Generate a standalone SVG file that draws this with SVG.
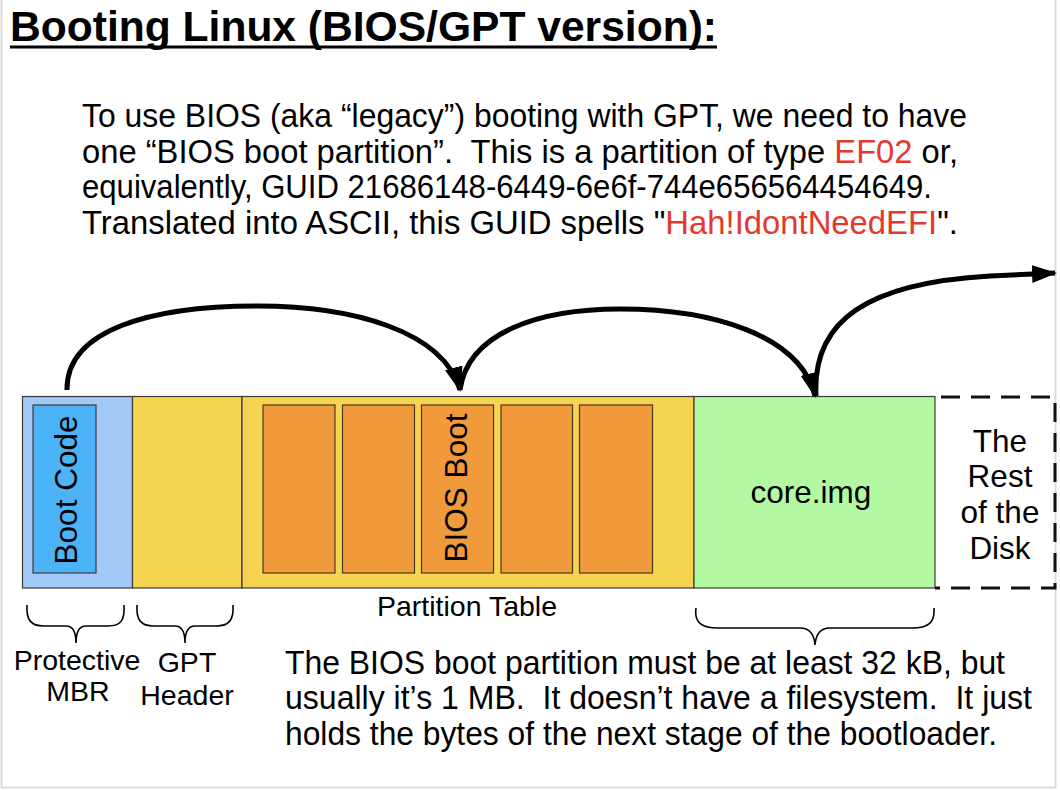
<svg xmlns="http://www.w3.org/2000/svg" width="1060" height="790" viewBox="0 0 1060 790">
  <style>
    .t { font-family: "Liberation Sans", Arial, sans-serif; fill: #000; white-space: pre; }
    .body { font-size: 32.5px; }
    .box { font-size: 31.5px; }
    .lbl { font-size: 28.5px; }
    .red { fill: #e5382c; }
    .blk { stroke: #3a3a3a; stroke-width: 1.2; }
    .part { fill: #f09a3b; stroke: #4a3a20; stroke-width: 1.2; }
    .arc { fill: none; stroke: #000; stroke-width: 5; marker-end: url(#head); }
    .brace { fill: none; stroke: #000; stroke-width: 1.6; }
  </style>
  <defs>
    <marker id="head" markerUnits="userSpaceOnUse" markerWidth="26" markerHeight="20" refX="23" refY="9" orient="auto">
      <path d="M0,0 L25,9 L0,18 z" fill="#000"/>
    </marker>
  </defs>

  <rect x="0" y="0" width="1060" height="790" fill="#fff"/>
  <rect x="1.5" y="-5" width="1054" height="792.5" fill="none" stroke="#dcdcdc" stroke-width="2"/>

  <!-- title -->
  <g id="title">
    <text class="t" x="10" y="41" font-size="43" font-weight="bold" textLength="707" lengthAdjust="spacingAndGlyphs">Booting Linux (BIOS/GPT version):</text>
    <line x1="10" y1="47" x2="717" y2="47" stroke="#000" stroke-width="3"/>
  </g>

  <!-- intro paragraph -->
  <g id="intro">
    <text class="t body" x="82" y="127" textLength="885" lengthAdjust="spacingAndGlyphs">To use BIOS (aka “legacy”) booting with GPT, we need to have</text>
    <text class="t body" x="82" y="163" textLength="876" lengthAdjust="spacingAndGlyphs">one “BIOS boot partition”.  This is a partition of type <tspan class="red">EF02</tspan> or,</text>
    <text class="t body" x="82" y="198" textLength="850" lengthAdjust="spacingAndGlyphs">equivalently, GUID 21686148-6449-6e6f-744e656564454649.</text>
    <text class="t body" x="82" y="234" textLength="876" lengthAdjust="spacingAndGlyphs">Translated into ASCII, this GUID spells "<tspan class="red">Hah!IdontNeedEFI</tspan>".</text>
  </g>

  <!-- disk layout -->
  <g id="mbr">
    <rect x="22.5" y="396.5" width="110" height="191.5" fill="#a2c9f6" class="blk"/>
    <rect x="33" y="405" width="63" height="168" fill="#4db3f7" class="blk"/>
    <text class="t box" text-anchor="middle" transform="translate(77,490) rotate(-90)">Boot Code</text>
  </g>
  <g id="gpt-header">
    <rect x="132.5" y="396.5" width="109.5" height="191.5" fill="#f6d350" class="blk"/>
  </g>
  <g id="partition-table">
    <rect x="242" y="396.5" width="452" height="191.5" fill="#f6d350" class="blk"/>
    <rect x="263" y="405" width="72" height="168" class="part"/>
    <rect x="342.5" y="405" width="72" height="168" class="part"/>
    <rect x="421.5" y="405" width="72" height="168" class="part"/>
    <rect x="501" y="405" width="71.5" height="168" class="part"/>
    <rect x="579.5" y="405" width="73" height="168" class="part"/>
    <text class="t box" text-anchor="middle" transform="translate(467,488) rotate(-90)">BIOS Boot</text>
  </g>
  <g id="core-img">
    <rect x="694" y="396.5" width="241" height="191.5" fill="#b2f9a1" class="blk"/>
    <text class="t box" x="811" y="503" text-anchor="middle">core.img</text>
  </g>
  <g id="rest-of-disk">
    <path d="M935,397 H1055 V588 H935" fill="none" stroke="#111" stroke-width="3" stroke-dasharray="19 11" stroke-dashoffset="-6"/>
    <text class="t box" x="1000" y="452" text-anchor="middle">The</text>
    <text class="t box" x="1000" y="487" text-anchor="middle">Rest</text>
    <text class="t box" x="1000" y="523" text-anchor="middle">of the</text>
    <text class="t box" x="1000" y="559" text-anchor="middle">Disk</text>
  </g>

  <!-- braces and labels under the disk -->
  <g id="mbr-label">
    <path class="brace" d="M27,605 C26,620 31,626 44,626 L66,626 C72,626 76,630 76,643 C76,630 80,626 86,626 L108,626 C121,626 125,620 124,605"/>
    <text class="t lbl" x="77" y="670" text-anchor="middle">Protective</text>
    <text class="t lbl" x="78" y="701" text-anchor="middle">MBR</text>
  </g>
  <g id="gpt-label">
    <path class="brace" d="M137,605 C136,620 141,626 154,626 L175,626 C181,626 185,630 185,643 C185,630 189,626 195,626 L216,626 C229,626 234,620 233,605"/>
    <text class="t lbl" x="187" y="672" text-anchor="middle">GPT</text>
    <text class="t lbl" x="187" y="705" text-anchor="middle">Header</text>
  </g>
  <g id="pt-label">
    <text class="t lbl" x="467" y="616" text-anchor="middle">Partition Table</text>
  </g>
  <g id="core-label">
    <path class="brace" d="M696,608 C694,623 702,628 718,628 L800,628 C808,628 814,632 815,645 C816,632 822,628 830,628 L912,628 C928,628 935,623 934,608"/>
  </g>

  <!-- note paragraph -->
  <g id="note">
    <text class="t body" x="285" y="674" textLength="720" lengthAdjust="spacingAndGlyphs">The BIOS boot partition must be at least 32 kB, but</text>
    <text class="t body" x="285" y="709" textLength="747" lengthAdjust="spacingAndGlyphs">usually it’s 1 MB.  It doesn’t have a filesystem.  It just</text>
    <text class="t body" x="285" y="745" textLength="712" lengthAdjust="spacingAndGlyphs">holds the bytes of the next stage of the bootloader.</text>
  </g>

  <!-- boot chain arrows -->
  <g id="connectors">
    <path class="arc" d="M67,390 C66,330 150,306 258,306 C350,306 443,330 460,390"/>
    <path class="arc" d="M460,390 C468,332 540,309 620,309 C712,309 800,335 815,396"/>
    <path class="arc" d="M816,396 C812,320 868,283 990,276 L1055,273"/>
  </g>
</svg>
